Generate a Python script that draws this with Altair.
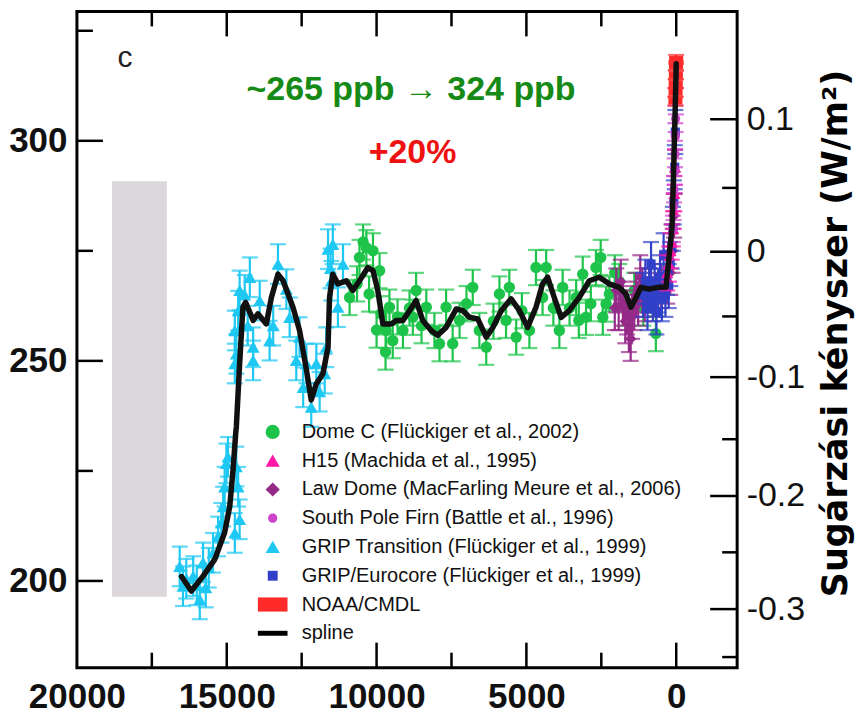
import altair as alt
import pandas as pd

W, H = 661, 657

# ---------------- data ----------------
spline_year = [16510, 16180, 15790, 15400, 15070, 14900, 14790, 14700, 14680, 14570, 14460, 14370,
               14120, 13960, 13680, 13510, 13290, 13120, 12790, 12570, 12340, 12180, 12010, 11790,
               11620, 11570, 11460, 11290, 11010, 10790, 10570, 10290, 10120, 9960, 9790, 9510,
               9340, 9120, 8900, 8680, 8460, 8180, 7960, 7680, 7340, 7120, 6900, 6620, 6340, 6120,
               5840, 5510, 5230, 4960, 4680, 4460, 4290, 4070, 3840, 3570, 3230, 2900, 2570, 2230,
               1900, 1680, 1510, 1340, 1180, 900, 620, 340, 230, 140, 90, 33, 0]
spline_ppb = [201.0, 197.7, 201.1, 204.9, 211.0, 216.9, 225.2, 233.6, 235.0, 249.4, 262.2, 263.3,
              259.2, 260.7, 258.4, 264.4, 269.7, 268.2, 262.2, 256.9, 247.9, 241.1, 244.8, 247.1,
              253.1, 264.4, 269.7, 267.5, 268.2, 266.0, 268.2, 271.2, 270.5, 266.0, 258.4, 258.4,
              259.2, 259.2, 261.4, 263.7, 259.2, 256.9, 255.8, 257.6, 261.8, 261.4, 259.9, 259.5,
              255.4, 257.6, 261.4, 264.1, 261.4, 257.6, 262.2, 267.5, 269.0, 264.4, 259.9, 261.4,
              264.5, 268.2, 269.0, 267.5, 266.7, 265.2, 262.2, 264.4, 266.7, 266.3, 266.7, 266.7,
              274.3, 280.3, 292.4, 307.4, 317.5]

grip_year = [16570, 16460, 16350, 16120, 16000, 15900, 15790, 15700, 15600, 15460, 15290, 15180,
             15120, 15070, 15010, 14960, 14730, 14680, 14620, 14570, 14730, 14680, 14730, 14620,
             14570, 14400, 14300, 14230, 14120, 14120, 13900, 13570, 13450, 13290, 13010, 12900,
             12680, 12570, 12450, 12340, 12180, 12010, 11900, 11730, 11680, 11620, 11540, 11510,
             11460, 11290, 11120]
grip_ppb = [203.3, 198.8, 200.5, 201.1, 199.0, 195.8, 204.2, 198.5, 203.0, 206.4, 210.1, 213.2,
            216.9, 221.4, 226.7, 228.2, 210.9, 226.0, 221.4, 214.0, 249.4, 251.6, 256.9, 261.4,
            266.0, 265.0, 258.0, 269.0, 253.1, 250.1, 263.7, 254.6, 258.0, 272.0, 266.3, 259.9,
            250.1, 255.4, 244.0, 249.4, 239.5, 249.4, 243.0, 247.1, 253.1, 275.4, 271.0, 268.2,
            276.5, 262.2, 272.0]

domec_year = [10900, 10650, 10570, 10450, 10340, 10250, 10120, 10000, 9900, 9850, 9700, 9680,
              9570, 9460, 9300, 9120, 8900, 8790, 8680, 8500, 8340, 8070, 7900, 7680, 7460, 7230,
              7000, 6790, 6570, 6340, 6100, 5900, 5680, 5570, 5340, 5150, 4900, 4680, 4460, 4340,
              4100, 3900, 3790, 3560, 3340, 3250, 3120, 3010, 2850, 2680, 2520, 2450, 2340, 2230,
              2050, 1900, 1700, 1400, 1100, 680]
domec_ppb = [264.4, 267.5, 273.5, 277.0, 275.7, 265.2, 275.0, 257.0, 270.5, 260.7, 252.0, 256.9,
             262.2, 254.6, 260.0, 256.9, 262.0, 259.9, 266.0, 258.0, 262.2, 256.9, 253.9, 262.2,
             253.9, 259.2, 263.0, 266.7, 256.9, 253.1, 259.0, 265.2, 259.2, 266.7, 255.4, 261.4,
             256.9, 271.2, 264.4, 271.2, 262.0, 256.9, 266.7, 262.0, 264.4, 259.2, 269.7, 259.9,
             263.0, 271.2, 273.5, 259.9, 262.9, 265.2, 270.0, 268.0, 262.0, 266.0, 262.0, 256.2]

law_year = [2050, 2000, 1920, 1850, 1780, 1700, 1640, 1580, 1520, 1470, 1400, 1340, 1270, 1200,
            1130, 1050, 900, 700, 500, 300, 200, 120, 70, 40]
law_ppb = [262.0, 266.0, 262.0, 268.0, 263.0, 259.0, 261.0, 257.0, 255.0, 260.0, 262.0, 265.0,
           263.0, 269.0, 266.0, 264.0, 266.0, 265.0, 267.0, 268.0, 270.0, 275.0, 283.0, 293.0]

euro_year = [1100, 1030, 960, 900, 840, 780, 720, 660, 600, 540, 480, 420, 360, 300, 250, 200,
             150, 110, 80, 50, 30]
euro_ppb = [265.0, 268.0, 262.0, 266.0, 272.0, 264.0, 267.0, 261.0, 266.0, 269.0, 264.0, 274.0,
            265.0, 270.0, 267.0, 272.0, 276.0, 280.0, 286.0, 294.0, 302.0]

h15_year = [300, 240, 190, 150, 110, 80, 60, 40]
h15_ppb = [270.0, 272.0, 275.0, 277.0, 280.0, 284.0, 288.0, 294.0]

sp_year = [110, 90, 70, 55, 40, 30, 20, 12]
sp_ppb = [280.0, 285.0, 289.0, 293.0, 297.0, 301.0, 305.0, 309.0]

noaa_year = [27, 22, 17, 12, 7, 2]
noaa_ppb = [309.0, 311.0, 313.0, 315.0, 317.0, 318.5]

# measurement uncertainty (ppb), per series
err_domec, err_grip, err_law, err_euro, err_h15, err_sp, err_noaa = 4, 4.5, 5, 5, 4, 3, 1

# grey glacial range box
lgm_year = [18830, 17000]
lgm_ppb = [196.4, 290.8]

# axis ticks
x_labels = [20000, 15000, 10000, 5000, 0]
x_major = [15000, 10000, 5000, 0]
x_minor = [17500, 12500, 7500, 2500]
y_major = [300, 250, 200]
y_minor = [325, 275, 225]
rf_labels = ["0.1", "0", "-0.1", "-0.2", "-0.3"]
rf_major_ppb = [304.9, 274.8, 246.3, 219.3, 193.6]
rf_minor_ppb = [289.3, 260.1, 232.2, 206.5, 182.7]

names = ["Dome C (Flückiger et al., 2002)", "H15 (Machida et al., 1995)",
         "Law Dome (MacFarling Meure et al., 2006)", "South Pole Firn (Battle et al., 1996)",
         "GRIP Transition (Flückiger et al., 1999)", "GRIP/Eurocore (Flückiger et al., 1999)",
         "NOAA/CMDL", "spline"]

# ---------------- styles ----------------
colors = ["#1ec44a", "#ff18a8", "#962a88", "#cc44cc", "#1ec8f2", "#3040c8", "#ff2a2a", "#000000"]
shapes = ["circle", "triangle-up", "diamond",
          "M0.65,0A0.65,0.65 0 1,1 -0.65,0A0.65,0.65 0 1,1 0.65,0Z",
          "triangle-up", "M-0.7,-0.7H0.7V0.7H-0.7Z",
          "M-2.1,-1H2.1V1H-2.1Z", "M-2.1,-0.35H2.1V0.35H-2.1Z"]
msize = {names[0]: 130, names[1]: 150, names[2]: 130, names[3]: 200,
         names[4]: 170, names[5]: 170, names[6]: 45}
color_of = dict(zip(names, colors))

series = [(names[4], grip_year, grip_ppb, err_grip),
          (names[0], domec_year, domec_ppb, err_domec),
          (names[2], law_year, law_ppb, err_law),
          (names[5], euro_year, euro_ppb, err_euro),
          (names[1], h15_year, h15_ppb, err_h15),
          (names[3], sp_year, sp_ppb, err_sp),
          (names[6], noaa_year, noaa_ppb, err_noaa)]

rows = []
for nm, ys, vs, e in series:
    for yv, pv in zip(ys, vs):
        rows.append({"series": nm, "year": yv, "ppb": pv, "lo": pv - e, "hi": pv + e,
                     "col": color_of[nm], "sz": msize[nm]})
pts = pd.DataFrame(rows)
spline_df = pd.DataFrame({"year": spline_year, "ppb": spline_ppb})
lgm_df = pd.DataFrame({"x1": [lgm_year[0]], "x2": [lgm_year[1]], "y1": [lgm_ppb[0]], "y2": [lgm_ppb[1]]})

# ---------------- scales / axes ----------------
xscale = alt.Scale(domain=[-2033, 20000], reverse=True, nice=False, zero=False)
yscale = alt.Scale(domain=[180.3, 329.4], nice=False, zero=False)
xaxis = alt.Axis(values=x_labels, format="d", labelFlush=False, labelFont="Liberation Sans",
                 labelFontSize=35, labelFontWeight="bold", labelColor="#111111", labelPadding=12,
                 ticks=False, domain=False, grid=False, title=None)
yaxis = alt.Axis(values=y_major, labelFont="Liberation Sans", labelFontSize=35,
                 labelFontWeight="bold", labelColor="#111111", labelPadding=10,
                 ticks=False, domain=False, grid=False, title=None)


def X(f):
    return alt.X(f, type="quantitative", scale=xscale, axis=xaxis)


def Y(f):
    return alt.Y(f, type="quantitative", scale=yscale, axis=yaxis)


legend = alt.Legend(orient="none", legendX=186, legendY=411, title=None, padding=0,
                    labelFont="Liberation Sans", labelFontSize=20, labelColor="#111111",
                    labelLimit=700, labelOffset=19, symbolSize=200, rowPadding=8.8,
                    symbolStrokeWidth=0, symbolOpacity=1)
color_enc = alt.Color("series:N", scale=alt.Scale(domain=names, range=colors), legend=legend)
shape_enc = alt.Shape("series:N", scale=alt.Scale(domain=names, range=shapes), legend=legend)

layers = []
layers.append(alt.Chart(lgm_df).mark_rect(color="#dbd7db").encode(
    x=X("x1"), x2="x2", y=Y("y1"), y2="y2"))

for nm, _, _, _ in series:
    b = alt.Chart(pts).transform_filter(alt.datum.series == nm)
    layers.append(b.mark_rule(strokeWidth=2.2).encode(
        x=X("year"), y=Y("lo"), y2="hi", color=alt.Color("col:N", scale=None)))
    layers.append(b.mark_tick(orient="horizontal", size=16, thickness=2.2).encode(
        x=X("year"), y=Y("lo"), color=alt.Color("col:N", scale=None)))
    layers.append(b.mark_tick(orient="horizontal", size=16, thickness=2.2).encode(
        x=X("year"), y=Y("hi"), color=alt.Color("col:N", scale=None)))
    layers.append(b.mark_point(filled=True, opacity=1, strokeWidth=0).encode(
        x=X("year"), y=Y("ppb"), color=color_enc, shape=shape_enc,
        opacity=alt.value(1),
        size=alt.Size("sz:Q", scale=None, legend=None)))

layers.append(alt.Chart(spline_df).mark_line(color="#111111", strokeWidth=5.5,
                                             strokeJoin="round", strokeCap="round").encode(
    x=X("year"), y=Y("ppb")))

# inward ticks
tk = dict(color="black", strokeWidth=2.5)
layers.append(alt.Chart(pd.DataFrame({"v": y_major})).mark_rule(**tk).encode(
    y=Y("v"), x=alt.value(0), x2=alt.value(26)))
layers.append(alt.Chart(pd.DataFrame({"v": y_minor})).mark_rule(**tk).encode(
    y=Y("v"), x=alt.value(0), x2=alt.value(16)))
for y0, s in [(H, -1), (0, 1)]:
    layers.append(alt.Chart(pd.DataFrame({"v": x_major})).mark_rule(**tk).encode(
        x=X("v"), y=alt.value(y0), y2=alt.value(y0 + s * 25)))
    layers.append(alt.Chart(pd.DataFrame({"v": x_minor})).mark_rule(**tk).encode(
        x=X("v"), y=alt.value(y0), y2=alt.value(y0 + s * 15)))

# annotations
ann = [("~265 ppb \u2192 324 ppb", 8850, 311.6, "#168a16", 34, "bold"),
       ("+20%", 8800, 297.2, "#ee1111", 34, "bold"),
       ("c", 18400, 318.7, "#222222", 30, "normal")]
for t, ax_, ay, c, fs, fw in ann:
    layers.append(alt.Chart(pd.DataFrame({"t": [t], "x": [ax_], "y": [ay]})).mark_text(
        color=c, fontSize=fs, fontWeight=fw, font="Liberation Sans", align="center",
        baseline="middle").encode(x=X("x"), y=Y("y"), text="t:N"))

main = alt.layer(*layers)

# right (radiative forcing) axis
label_expr = " : ".join(
    f"abs(datum.value - {p}) < 0.01 ? '{l}'" for p, l in zip(rf_major_ppb, rf_labels)) + " : ''"
raxis = alt.Axis(orient="right", values=rf_major_ppb, labelExpr=label_expr,
                 labelFont="Liberation Sans", labelFontSize=34, labelColor="#111111",
                 labelPadding=9, ticks=False, domain=False, grid=False,
                 title="Sugárzási kényszer (W/m²)", titleFont="DejaVu Sans", titleFontSize=35,
                 titleFontWeight="bold", titleColor="black", titleAngle=270,
                 titleBaseline="top", titlePadding=14, titleY=322, titleAlign="center")
RY = alt.Y("v:Q", scale=yscale, axis=raxis)
right = alt.layer(
    alt.Chart(pd.DataFrame({"v": rf_major_ppb})).mark_rule(**tk).encode(
        y=RY, x=alt.value(W), x2=alt.value(W - 27)),
    alt.Chart(pd.DataFrame({"v": rf_minor_ppb})).mark_rule(**tk).encode(
        y=RY, x=alt.value(W), x2=alt.value(W - 15)),
)

chart = alt.layer(main, right).resolve_scale(y="independent").properties(
    width=W, height=H, padding={"left": 0, "top": 1, "right": 2, "bottom": 0}
).configure_view(stroke="black", strokeWidth=3).configure_legend(symbolOpacity=1)

chart.save("out.html", embed_options={"renderer": "svg", "actions": False})
